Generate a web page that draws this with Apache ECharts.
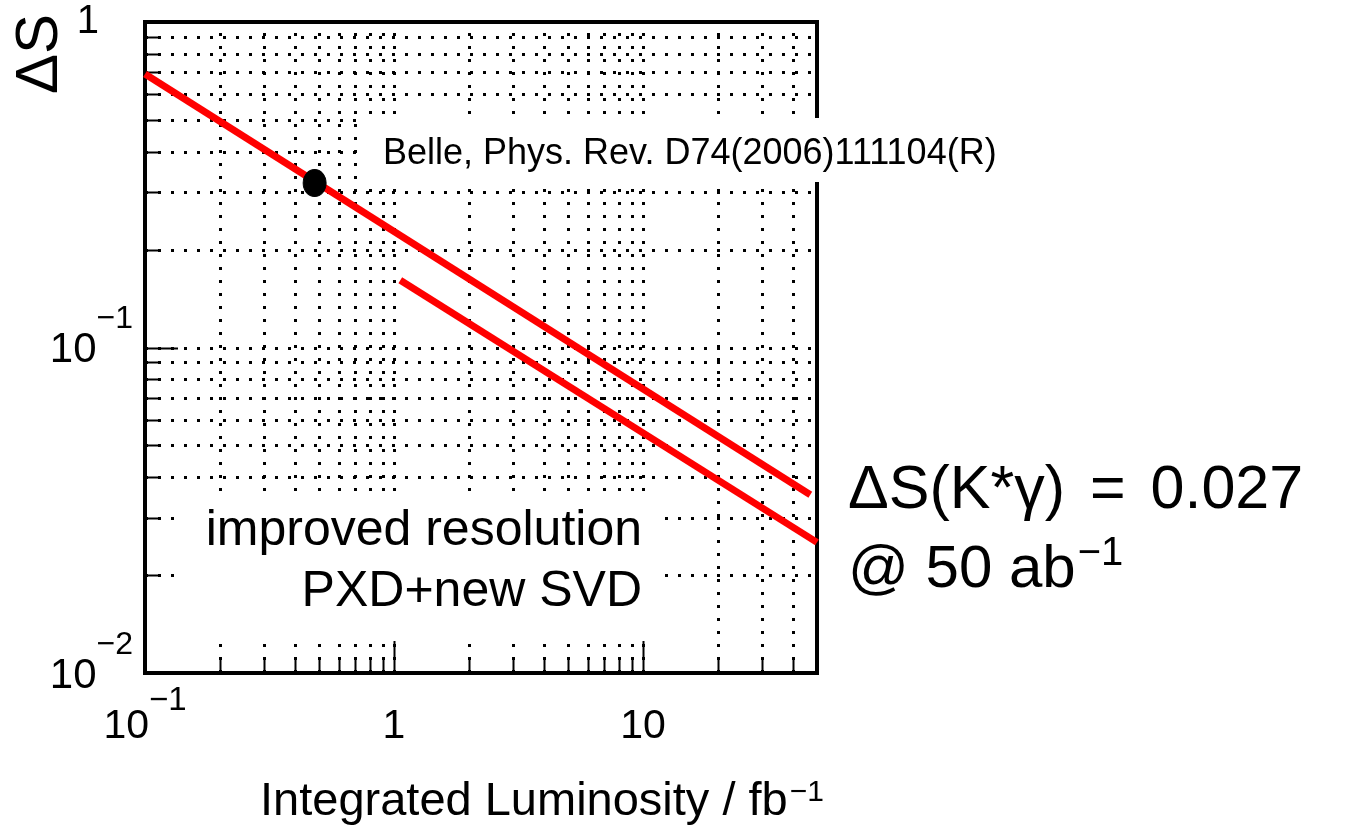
<!DOCTYPE html>
<html><head><meta charset="utf-8">
<script src="https://cdn.jsdelivr.net/npm/echarts@6/dist/echarts.min.js"></script>
<style>html,body{margin:0;padding:0;background:#fff}#c{width:1354px;height:830px}</style>
</head><body><div id="c"></div>
<script>
// ---- data ----
const xMin = 0.1, xMax = 50, yMin = 0.01, yMax = 1;
const xGridValues = [0.2,0.3,0.4,0.5,0.6,0.7,0.8,0.9,1,2,3,4,5,6,7,8,9,10,20,30,40];
const yGridValues = [0.02,0.03,0.04,0.05,0.06,0.07,0.08,0.09,0.1,0.2,0.3,0.4,0.5,0.6,0.7,0.8,0.9];
const upperLine = [[0.1, 0.692], [47, 0.0353]];
const lowerLine = [[1.06, 0.161], [50, 0.0252]];
const bellePoint = [[0.48, 0.32]];
const belleLabel = 'Belle, Phys. Rev. D74(2006)111104(R)';
const boxLine1 = 'improved resolution';
const boxLine2 = 'PXD+new SVD';
const resultLine1 = ['ΔS(K*γ) ', '=', ' 0.027'];
const resultLine2 = ['@ 50 ab', '−1'];
const xTitle = ['Integrated Luminosity / fb', '−1'];
const yTitle = 'ΔS';

const FONT = '"Liberation Sans", Arial, Helvetica, sans-serif';
const chart = echarts.init(document.getElementById('c'), null, {renderer: 'canvas'});

function isDecade(v) { const l = Math.log10(v); return Math.abs(l - Math.round(l)) < 1e-6; }

const dotted = {stroke: '#000', lineWidth: 3, lineDash: [3, 10]};
const px = v => Math.round(v) + 0.5;

const option = {
  animation: false,
  backgroundColor: '#fff',
  grid: {left: 145, right: 537, top: 22, bottom: 157, show: true, borderColor: '#000', borderWidth: 4,
         backgroundColor: 'transparent', outerBoundsMode: 'none', containLabel: false},
  xAxis: {
    type: 'log', logBase: 10, min: xMin, max: xMax,
    axisLine: {show: false},
    axisTick: {show: false},
    splitLine: {show: false},
    minorTick: {show: false}, minorSplitLine: {show: false},
    axisLabel: {
      margin: 11, showMaxLabel: false,
      formatter: v => { if (!isDecade(v)) return ''; const e = Math.round(Math.log10(v));
        if (e === 0) return '{b|1}'; if (e === 1) return '{b|10}'; return '{b|10}{s|−' + (-e) + '}'; },
      rich: {
        b: {fontFamily: FONT, fontSize: 41, color: '#000', verticalAlign: 'bottom', padding: [22, 0, 0, 0]},
        s: {fontFamily: FONT, fontSize: 33, color: '#000', verticalAlign: 'bottom', padding: [0, 0, 30, 0]}
      }
    }
  },
  yAxis: {
    type: 'log', logBase: 10, min: yMin, max: yMax,
    axisLine: {show: false},
    axisTick: {show: false},
    splitLine: {show: false},
    minorTick: {show: false}, minorSplitLine: {show: false},
    axisLabel: {
      margin: 12,
      formatter: v => { if (!isDecade(v)) return ''; const e = Math.round(Math.log10(v));
        if (e === 0) return '{one|1}'; return '{b|10}{s|−' + (-e) + '}'; },
      rich: {
        b: {fontFamily: FONT, fontSize: 42, color: '#000', verticalAlign: 'bottom', padding: [28, 0, 22, 0]},
        s: {fontFamily: FONT, fontSize: 32, color: '#000', verticalAlign: 'bottom', padding: [0, 0, 58, 0]},
        one: {fontFamily: FONT, fontSize: 40, color: '#000', padding: [0, 34, 0, 0]}
      }
    }
  },
  series: [
    { // vertical grid lines + bottom ticks
      type: 'custom', silent: true, z: 1,
      data: xGridValues.map(v => [v, yMin]),
      renderItem: (params, api) => {
        const cs = params.coordSys;
        const v = api.value(0);
        const x = px(api.coord([v, yMin])[0]);
        const bottom = cs.y + cs.height;
        const len = isDecade(v) ? 32 : 16;
        return {type: 'group', children: [
          {type: 'line', shape: {x1: x, y1: bottom, x2: x, y2: cs.y}, style: dotted},
          {type: 'line', shape: {x1: x, y1: bottom, x2: x, y2: bottom - len}, style: {stroke: '#000', lineWidth: 2}}
        ]};
      }
    },
    { // horizontal grid lines + left ticks
      type: 'custom', silent: true, z: 1,
      data: yGridValues.map(v => [xMin, v]),
      renderItem: (params, api) => {
        const cs = params.coordSys;
        const v = api.value(1);
        const y = px(api.coord([xMin, v])[1]);
        const len = isDecade(v) ? 33 : 13;
        return {type: 'group', children: [
          {type: 'line', shape: {x1: cs.x, y1: y, x2: cs.x + cs.width, y2: y}, style: dotted},
          {type: 'line', shape: {x1: cs.x, y1: y, x2: cs.x + len, y2: y}, style: {stroke: '#000', lineWidth: 2}}
        ]};
      }
    },
    {type: 'line', data: upperLine, symbol: 'none', z: 5, lineStyle: {color: '#ff0000', width: 7}},
    {type: 'line', data: lowerLine, symbol: 'none', z: 5, lineStyle: {color: '#ff0000', width: 7}},
    {type: 'scatter', data: bellePoint, symbol: 'circle', symbolSize: [23, 27], z: 6,
     itemStyle: {color: '#000', borderColor: '#000', opacity: 1}}
  ],
  graphic: [
    {type: 'rect', z: 50, shape: {x: 360, y: 118, width: 650, height: 64}, style: {fill: '#fff'}},
    {type: 'text', z: 51, style: {text: belleLabel, x: 383, y: 154, fontFamily: FONT, fontSize: 36, fill: '#000',
      align: 'left', verticalAlign: 'middle', textAlign: 'left', textVerticalAlign: 'middle'}},
    {type: 'rect', z: 50, shape: {x: 182, y: 495, width: 478, height: 140}, style: {fill: '#fff'}},
    {type: 'text', z: 51, style: {text: boxLine1, x: 642, y: 531, fontFamily: FONT, fontSize: 50, fill: '#000',
      align: 'right', verticalAlign: 'middle', textAlign: 'right', textVerticalAlign: 'middle'}},
    {type: 'text', z: 51, style: {text: boxLine2, x: 642, y: 592, fontFamily: FONT, fontSize: 50, fill: '#000',
      align: 'right', verticalAlign: 'middle', textAlign: 'right', textVerticalAlign: 'middle'}},
    {type: 'text', z: 51, style: {
      text: '{t|' + resultLine1[0] + '}{e|' + resultLine1[1] + '}{t|' + resultLine1[2] + '}',
      x: 848, y: 491, align: 'left', verticalAlign: 'middle', textAlign: 'left', textVerticalAlign: 'middle',
      rich: {t: {fontFamily: FONT, fontSize: 61, fill: '#000', color: '#000'},
             e: {fontFamily: FONT, fontSize: 61, fill: '#000', color: '#000', padding: [0, 8, 0, 8]}}}},
    {type: 'text', z: 51, style: {
      text: '{n|' + resultLine2[0] + '}{s|' + resultLine2[1] + '}',
      x: 848, y: 567, align: 'left', verticalAlign: 'middle', textAlign: 'left', textVerticalAlign: 'middle',
      rich: {n: {fontFamily: FONT, fontSize: 60, fill: '#000', color: '#000', verticalAlign: 'bottom', padding: [6, 0, 0, 0]},
             s: {fontFamily: FONT, fontSize: 40, fill: '#000', color: '#000', verticalAlign: 'bottom', padding: [0, 0, 26, 2]}}}},
    {type: 'text', z: 51, style: {
      text: '{n|' + xTitle[0] + '}{s|' + xTitle[1] + '}',
      x: 260, y: 802, align: 'left', verticalAlign: 'middle', textAlign: 'left', textVerticalAlign: 'middle',
      rich: {n: {fontFamily: FONT, fontSize: 47, fill: '#000', color: '#000', verticalAlign: 'bottom'},
             s: {fontFamily: FONT, fontSize: 30, fill: '#000', color: '#000', verticalAlign: 'bottom', padding: [0, 0, 18, 2]}}}},
    {type: 'text', z: 51, x: 40, y: 54, rotation: Math.PI / 2, style: {
      text: yTitle, x: 0, y: 0, fontFamily: FONT, fontSize: 60, fill: '#000',
      align: 'center', verticalAlign: 'middle', textAlign: 'center', textVerticalAlign: 'middle'}}
  ]
};
chart.setOption(option);
</script></body></html>
